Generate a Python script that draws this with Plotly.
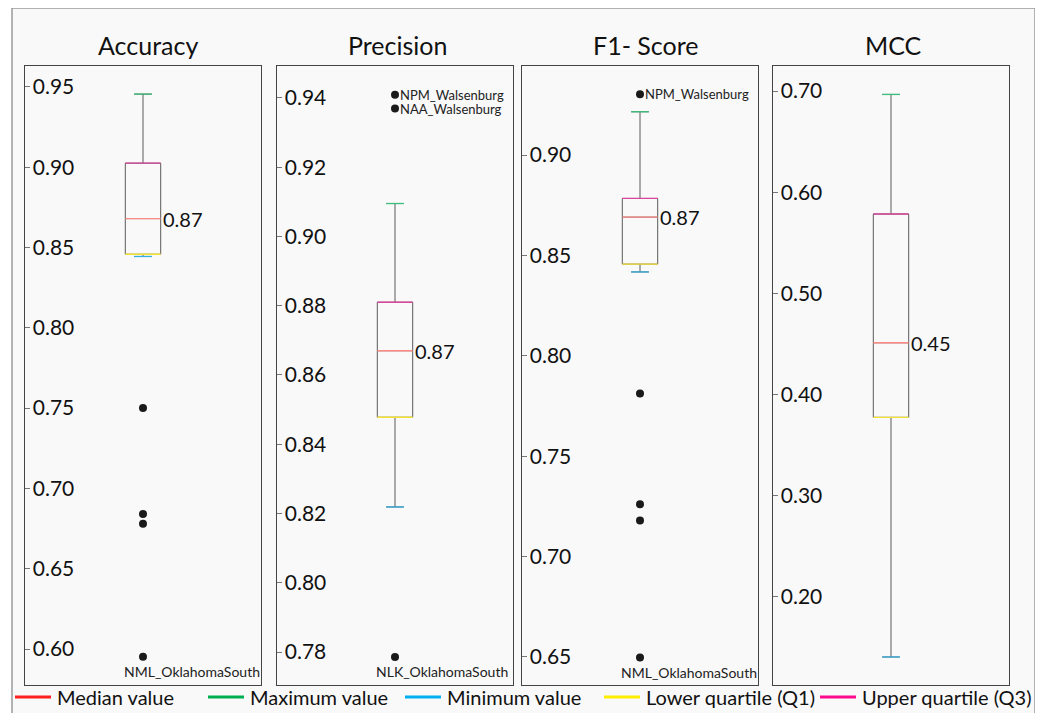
import plotly.graph_objects as go
from plotly.subplots import make_subplots

# ---------------- data ----------------
metrics = ["Accuracy", "Precision", "F1- Score", "MCC"]
min_vals = [0.8444, 0.8219, 0.8418, 0.1406]
q1_vals = [0.8458, 0.8478, 0.8457, 0.3775]
median_vals = [0.8680, 0.8670, 0.8691, 0.4512]
q3_vals = [0.9025, 0.8810, 0.8784, 0.5785]
max_vals = [0.9455, 0.9095, 0.9216, 0.6967]

acc_outliers = [0.750, 0.684, 0.678, 0.5952]
acc_outlier_labels = ["", "", "", "NML_OklahomaSouth"]
prec_outliers = [0.9409, 0.9369, 0.7786]
prec_outlier_labels = ["NPM_Walsenburg", "NAA_Walsenburg", "NLK_OklahomaSouth"]
f1_outliers = [0.9303, 0.7812, 0.7260, 0.7180, 0.6497]
f1_outlier_labels = ["NPM_Walsenburg", "", "", "", "NML_OklahomaSouth"]
mcc_outliers = []
mcc_outlier_labels = []

outliers = [acc_outliers, prec_outliers, f1_outliers, mcc_outliers]
outlier_labels = [acc_outlier_labels, prec_outlier_labels, f1_outlier_labels, mcc_outlier_labels]

legend_names = ["Median value", "Maximum value", "Minimum value",
                "Lower quartile (Q1)", "Upper quartile (Q3)"]

# ---------------- style / layout ----------------
OFF = 8                      # page body margin
FW, FH = 1043 - OFF, 713 - OFF
FONT = "Lato"


def fx(p):
    return (p - OFF) / FW


def fy(p):
    return 1 - (p - OFF) / FH


y_ranges = [[0.5776, 0.9630], [0.7705, 0.9492], [0.6360, 0.9444], [0.1129, 0.7248]]
y_tick0 = [0.60, 0.78, 0.65, 0.20]
y_dtick = [0.05, 0.02, 0.05, 0.10]
panel_px = [(25, 261), (277, 513), (522, 758), (773, 1009)]
title_x_px = [148, 397, 646, 893]
plot_top_px, plot_bot_px = 66, 685
legend_x_px = [15, 208, 405, 604, 820]
legend_y_px = 697
LEG_LINE = 36

BOX_W = 0.15
WHISK = 0.5
EDGE = "#5a5a5a"
legend_colors = ["#ff2020", "#00b050", "#00b0f0", "#ffee00", "#ff0a8c"]
line_colors = ["#ff8a84", "#3cbf7c", "#35aee0", "#f2e233", "#d9479a"]

fig = make_subplots(rows=1, cols=4)

annotations = []
shapes = [dict(type="rect", xref="paper", yref="paper",
               x0=fx(12), x1=fx(1035), y0=-0.05, y1=fy(8),
               line=dict(color="#9a9a9a", width=1.5), fillcolor="#f9f9f9",
               layer="below")]

for i in range(4):
    col = i + 1
    sx = "" if col == 1 else str(col)
    xr, yr = "x" + sx, "y" + sx

    fig.add_trace(go.Box(
        x=[0], q1=[q1_vals[i]], median=[median_vals[i]], q3=[q3_vals[i]],
        lowerfence=[min_vals[i]], upperfence=[max_vals[i]],
        width=BOX_W, whiskerwidth=WHISK, boxpoints=False,
        line=dict(color=EDGE, width=1), fillcolor="rgba(0,0,0,0)",
        showlegend=False, hoverinfo="skip"), row=1, col=col)

    half_box = BOX_W / 2
    half_cap = BOX_W * WHISK / 2
    segs = [
        (median_vals[i], half_box, line_colors[0]),
        (max_vals[i], half_cap, line_colors[1]),
        (min_vals[i], half_cap, line_colors[2]),
        (q1_vals[i], half_box, line_colors[3]),
        (q3_vals[i], half_box, line_colors[4]),
    ]
    for v, hw, c in segs:
        fig.add_trace(go.Scatter(x=[-hw, hw], y=[v, v], mode="lines",
                                 line=dict(color=c, width=1.3),
                                 showlegend=False, hoverinfo="skip"),
                      row=1, col=col)

    if outliers[i]:
        fig.add_trace(go.Scatter(x=[0] * len(outliers[i]), y=outliers[i], mode="markers",
                                 marker=dict(color="#1a1a1a", size=8),
                                 showlegend=False, hoverinfo="skip"),
                      row=1, col=col)
        for v, lab in zip(outliers[i], outlier_labels[i]):
            if not lab:
                continue
            if v > q3_vals[i]:
                annotations.append(dict(x=0, y=v, xref=xr, yref=yr, text=lab,
                                        xanchor="left", yanchor="middle", xshift=3,
                                        showarrow=False,
                                        font=dict(size=13, color="#222", family=FONT)))
            else:
                annotations.append(dict(x=0, y=v, xref=xr, yref=yr, text=lab,
                                        xanchor="left", yanchor="middle", xshift=-21,
                                        yshift=-15, showarrow=False,
                                        font=dict(size=14, color="#222", family=FONT)))

    # median label
    annotations.append(dict(x=half_box, y=median_vals[i], xref=xr, yref=yr,
                            text=f"{median_vals[i]:.2f}", xanchor="left",
                            yanchor="middle", xshift=0, showarrow=False,
                            font=dict(size=20, color="#111", family=FONT)))
    # panel title
    px0, px1 = panel_px[i]
    annotations.append(dict(x=fx(title_x_px[i]), y=fy(45), xref="paper", yref="paper",
                            text=metrics[i], xanchor="center", yanchor="middle",
                            showarrow=False, font=dict(size=25, color="#111", family=FONT)))

    fig.update_xaxes(domain=[fx(px0), fx(px1)], range=[-0.5, 0.5],
                     showticklabels=False, ticks="", showgrid=False, zeroline=False,
                     showline=True, mirror=True, linecolor="#444", linewidth=1,
                     fixedrange=True, row=1, col=col)
    fig.update_yaxes(domain=[fy(plot_bot_px), fy(plot_top_px)],
                     range=y_ranges[i], tick0=y_tick0[i], dtick=y_dtick[i],
                     tickformat=".2f", ticks="inside", ticklen=5, tickcolor="#777",
                     ticklabelposition="inside", ticklabelstandoff=4,
                     tickfont=dict(size=21, color="#111", family=FONT),
                     showgrid=False, zeroline=False, showline=True, mirror=True,
                     linecolor="#444", linewidth=1, row=1, col=col)

# legend (swatch line + label), laid out like the original's key row
for name, c, lx in zip(legend_names, legend_colors, legend_x_px):
    shapes.append(dict(type="line", xref="paper", yref="paper",
                       x0=fx(lx), x1=fx(lx + LEG_LINE), y0=fy(legend_y_px), y1=fy(legend_y_px),
                       line=dict(color=c, width=3)))
    annotations.append(dict(x=fx(lx + LEG_LINE + 4), y=fy(legend_y_px), xref="paper",
                            yref="paper", text=name, xanchor="left", yanchor="middle",
                            showarrow=False, font=dict(size=20, color="#111", family=FONT)))

fig.update_layout(
    width=FW, height=FH, autosize=False,
    margin=dict(l=0, r=0, t=0, b=0),
    paper_bgcolor="white", plot_bgcolor="#f9f9f9",
    font=dict(family=FONT, color="#111"),
    showlegend=False,
    annotations=annotations,
    shapes=shapes,
)

fig.write_html("out.html")
